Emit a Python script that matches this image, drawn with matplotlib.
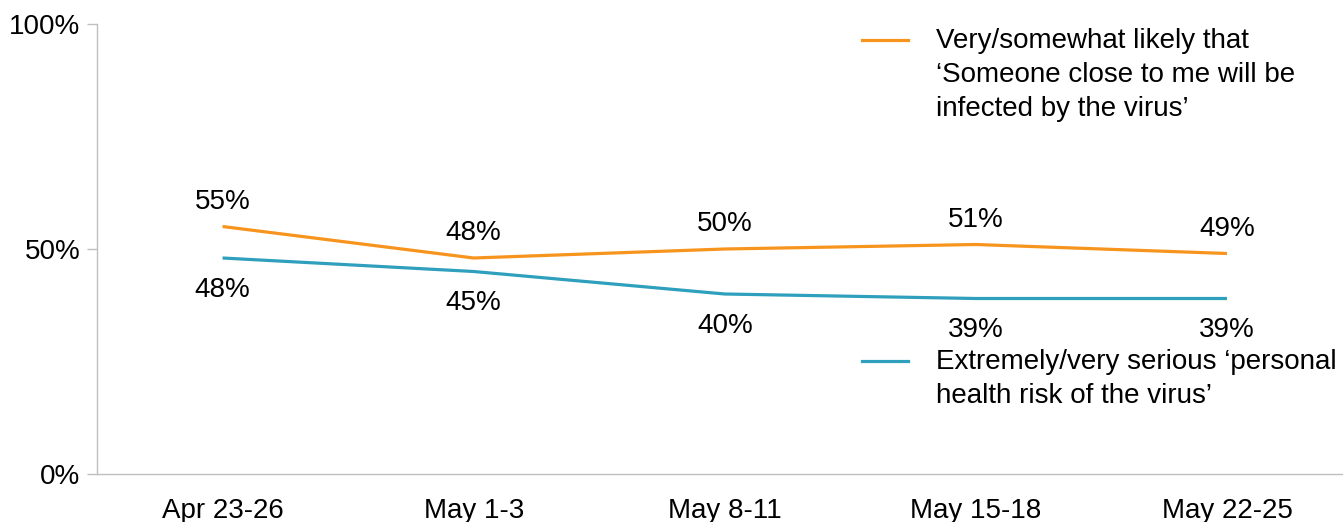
import matplotlib
matplotlib.use("Agg")
import matplotlib.pyplot as plt
from matplotlib.lines import Line2D

plt.rcParams['font.family'] = ['Liberation Sans', 'DejaVu Sans']

# data
periods = ['Apr 23-26', 'May 1-3', 'May 8-11', 'May 15-18', 'May 22-25']
likely_infected = [55, 48, 50, 51, 49]
serious_risk = [48, 45, 40, 39, 39]
y_ticks = [0, 50, 100]

label_likely = "Very/somewhat likely that\n\u2018Someone close to me will be\ninfected by the virus\u2019"
label_serious = "Extremely/very serious \u2018personal\nhealth risk of the virus\u2019"

ORANGE = '#F7941D'
TEAL = '#2E9FBC'
GREY = '#BFBFBF'
FS = 20

fig = plt.figure(figsize=(13.43, 5.22), dpi=100)
ax = fig.add_axes([97 / 1343, 48 / 522, 1255.5 / 1343, 450 / 522])

x = list(range(len(periods)))
ax.plot(x, likely_infected, color=ORANGE, lw=2.3, solid_capstyle='butt')
ax.plot(x, serious_risk, color=TEAL, lw=2.3, solid_capstyle='butt')

for xi, v in zip(x, likely_infected):
    ax.annotate(f'{v}%', (xi, v), xytext=(0, 18), textcoords='offset points',
                ha='center', va='center', fontsize=FS)
for xi, v in zip(x, serious_risk):
    ax.annotate(f'{v}%', (xi, v), xytext=(0, -23), textcoords='offset points',
                ha='center', va='center', fontsize=FS)

ax.set_xlim(-0.5, len(periods) - 0.5)
ax.set_ylim(0, 100)
ax.set_xticks(x)
ax.set_xticklabels(periods, fontsize=FS)
ax.set_yticks(y_ticks)
ax.set_yticklabels([f'{t}%' for t in y_ticks], fontsize=FS)
ax.tick_params(axis='x', length=0, pad=17)
ax.tick_params(axis='y', length=7, width=1, color=GREY, pad=5)

for side in ('top', 'right'):
    ax.spines[side].set_visible(False)
for side in ('left', 'bottom'):
    ax.spines[side].set_color(GREY)
    ax.spines[side].set_linewidth(1)

# legend drawn as free lines and text on the right
def fx(px):
    return px / 1343

def fy(py):
    return 1 - py / 522

fig.add_artist(Line2D([fx(862), fx(908)], [fy(40), fy(40)], color=ORANGE, lw=2.3,
                      transform=fig.transFigure))
fig.text(fx(936), fy(75), label_likely, fontsize=FS, va='center', ha='left',
         linespacing=1.42)
fig.add_artist(Line2D([fx(862), fx(908)], [fy(361), fy(361)], color=TEAL, lw=2.3,
                      transform=fig.transFigure))
fig.text(fx(936), fy(379), label_serious, fontsize=FS, va='center', ha='left',
         linespacing=1.42)

fig.savefig('out.png', dpi=100)
